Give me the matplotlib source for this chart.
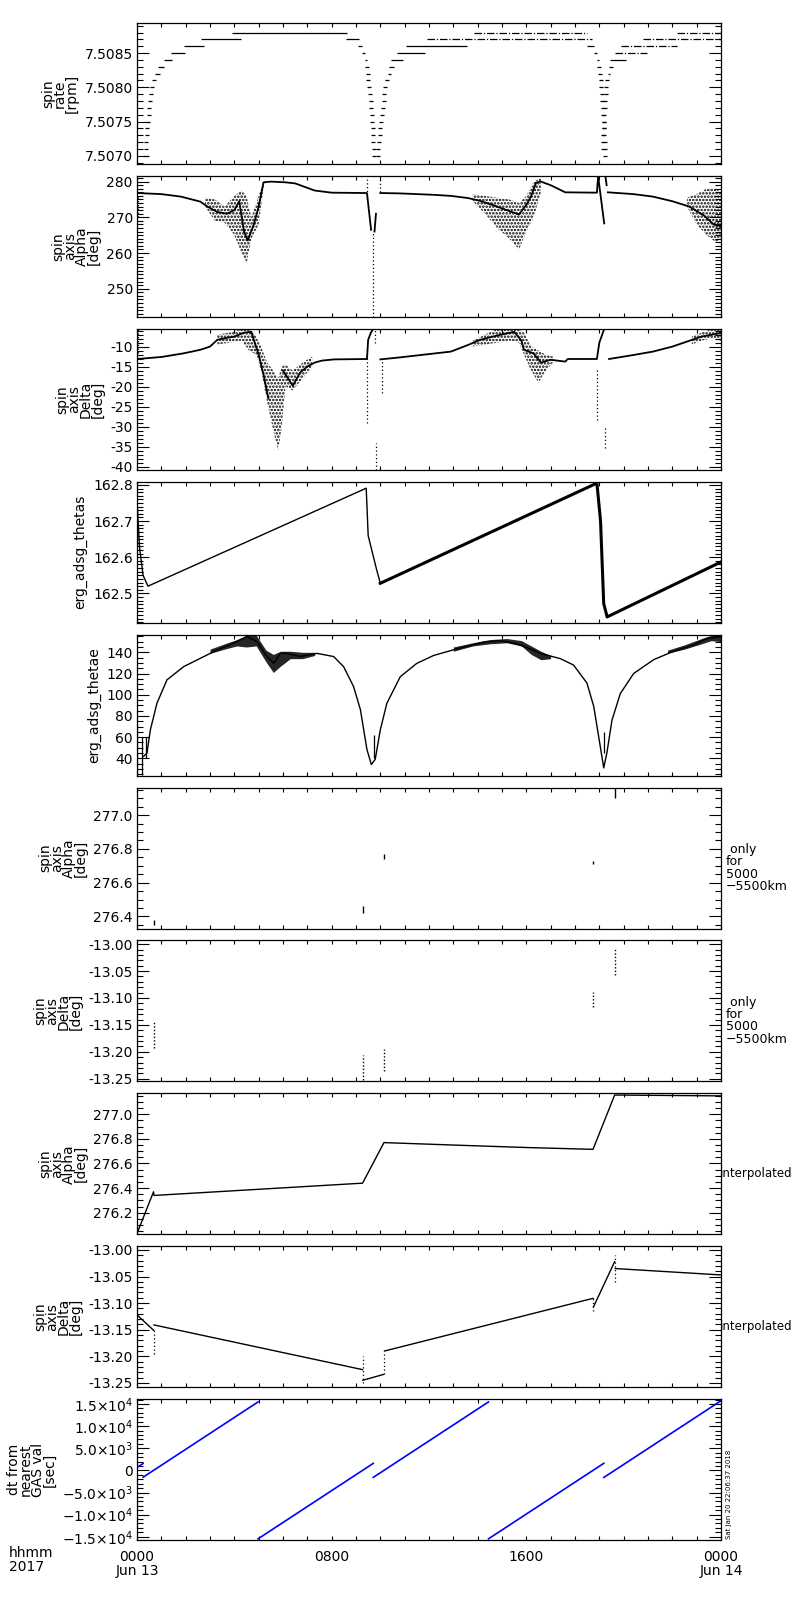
import numpy as np
import matplotlib
matplotlib.use("Agg")
import matplotlib.pyplot as plt
from matplotlib.ticker import MultipleLocator, FixedLocator, FormatStrFormatter, FuncFormatter

plt.rcParams['font.family'] = ['DejaVu Sans']
plt.rcParams['hatch.linewidth'] = 1.2
nan = np.nan

# ---- panel 1: spin rate [rpm], quantised steps (level, start hour, end hour)
seg_level = [7.5080, 7.5081, 7.5082, 7.5083, 7.5084, 7.5085, 7.5086, 7.5087, 7.5088,
             7.5087, 7.5086, 7.5085, 7.5084,
             7.5082, 7.5083, 7.5084, 7.5085, 7.5086, 7.5087, 7.5088,
             7.5086, 7.5085, 7.5084,
             7.5082, 7.5083, 7.5084, 7.5085, 7.5086, 7.5087, 7.5088]
seg_t0 = [0.55, 0.63, 0.75, 0.86, 1.09, 1.41, 1.94, 2.64, 3.90,
          8.60, 9.07, 9.24, 9.36,
          10.30, 10.35, 10.45, 10.70, 11.07, 11.92, 13.86,
          18.50, 18.80, 18.90,
          19.35, 19.40, 19.45, 19.65, 19.90, 20.80, 22.20]
seg_t1 = [0.71, 0.79, 0.93, 1.12, 1.44, 1.98, 2.77, 4.27, 8.63,
          9.11, 9.24, 9.38, 9.45,
          10.42, 10.55, 10.95, 11.85, 13.57, 18.70, 18.50,
          18.80, 18.90, 19.00,
          19.42, 19.58, 20.10, 20.95, 22.20, 24.00, 24.00]
# segments that are broken up in the original (mixed levels)
seg_broken = [False, False, False, False, False, False, False, False, False,
              False, False, False, False,
              False, False, False, False, False, True, True,
              False, False, False,
              False, False, False, True, True, True, True]
dot_level = [7.5070, 7.5071, 7.5072, 7.5073, 7.5074, 7.5075, 7.5076, 7.5077, 7.5078, 7.5079,
             7.5083, 7.5082, 7.5081, 7.5080, 7.5079, 7.5078, 7.5077, 7.5076, 7.5075, 7.5074, 7.5073, 7.5072, 7.5071, 7.5070,
             7.5081, 7.5080, 7.5079, 7.5078, 7.5077, 7.5076, 7.5075, 7.5074, 7.5073, 7.5072, 7.5071, 7.5070,
             7.5083, 7.5082, 7.5081, 7.5080, 7.5079, 7.5078, 7.5077, 7.5076, 7.5075, 7.5074, 7.5073, 7.5072, 7.5071, 7.5070,
             7.5081, 7.5080, 7.5079, 7.5078, 7.5077, 7.5076, 7.5075, 7.5074, 7.5073, 7.5072, 7.5071]
dot_t = [0.36, 0.37, 0.38, 0.40, 0.43, 0.45, 0.48, 0.50, 0.53, 0.56,
         9.45, 9.48, 9.51, 9.54, 9.57, 9.60, 9.62, 9.64, 9.66, 9.68, 9.70, 9.71, 9.72, 9.73,
         10.26, 10.21, 10.17, 10.14, 10.10, 10.07, 10.03, 10.00, 9.97, 9.94, 9.92, 9.90,
         19.00, 19.03, 19.06, 19.08, 19.10, 19.12, 19.14, 19.16, 19.18, 19.20, 19.21, 19.22, 19.23, 19.24,
         19.31, 19.28, 19.26, 19.24, 19.23, 19.21, 19.20, 19.18, 19.17, 19.15, 19.14]

# ---- panel 2: spin axis Alpha [deg]
alpha_t = [0, 1.0, 1.8, 2.6, 2.9, 3.3, 3.7, 4.0, 4.2, 4.4, 4.55, 4.8, 5.0, 5.2, 5.5, 6.1, 6.5, 6.9, 7.3,
           8.0, 9.45, 9.62, nan, 9.76, 9.82, nan,
           10.0, 10.8, 12.2, 12.9, 13.6, 14.1, 14.6, 15.0, 15.4, 15.7, 16.0, 16.2, 16.4, 16.6, 17.0, 17.3,
           17.6, 18.9, 18.95, 19.2, nan, 19.25, 19.3, nan,
           19.35, 20.4, 21.2, 22.0, 22.7, 23.3, 23.7, 24.0]
alpha_v = [276.8, 276.5, 275.8, 274.4, 273.0, 271.5, 271.0, 272.0, 274.5, 266.0, 263.5, 268.0, 273.0, 279.8,
           280.0, 279.8, 279.5, 278.5, 277.5,
           276.9, 276.8, 266.5, nan, 266.0, 271.0, nan,
           276.8, 276.7, 276.3, 276.0, 275.4, 274.6, 273.5, 272.5, 271.5, 270.8, 273.5, 276.0, 279.7, 280.0,
           279.0, 278.0,
           277.0, 276.9, 281.5, 268.3, nan, 281.5, 279.0, nan,
           277.0, 276.5, 275.8, 274.5, 273.0, 270.5, 268.0, 267.5]
alpha_cloud_t = [[2.8, 3.2, 3.6, 4.0, 4.3, 4.5, 4.7, 5.0, 5.2],
                 [13.8, 14.3, 14.8, 15.3, 15.7, 16.0, 16.3, 16.6],
                 [22.6, 23.0, 23.4, 23.8, 24.0]]
alpha_cloud_lo = [[273.0, 269.0, 268.5, 265.0, 260.0, 257.0, 264.0, 268.0, 278.0],
                  [274.5, 271.0, 267.0, 264.0, 261.0, 266.0, 270.0, 277.0],
                  [273.0, 268.0, 265.0, 263.0, 264.0]]
alpha_cloud_hi = [[275.5, 275.0, 273.0, 276.0, 277.5, 276.0, 270.0, 276.0, 280.0],
                  [276.5, 276.0, 275.5, 275.0, 274.0, 276.0, 280.0, 281.0],
                  [275.5, 276.5, 278.0, 278.0, 277.0]]
alpha_dots_t = [0.05, 9.47, 9.70, 10.0]
alpha_dots_lo = [270.0, 275.0, 241.0, 277.0]
alpha_dots_hi = [276.0, 281.6, 266.0, 281.6]

# ---- panel 3: spin axis Delta [deg]
delta_t = [0, 1.0, 1.9, 2.6, 3.0, 3.3, 3.7, 4.0, 4.4, 4.7, 4.8, 5.0, 5.2, 5.4, nan,
           6.0, 6.4, 6.7, 7.0, 7.3, 7.6, 8.1, 9.45, 9.5, 9.6, 9.7, nan,
           10.0, 10.8, 12.9, 13.6, 14.1, 14.9, 15.5, 15.8, 15.9, 16.3, 16.6, 17.0, 17.6, 17.7, 18.9, 19.0, 19.2, nan,
           19.4, 20.4, 21.2, 22.0, 22.6, 23.2, 23.9, 24.0]
delta_v = [-13.1, -12.6, -11.7, -10.8, -10.0, -8.3, -7.8, -7.5, -6.5, -6.3, -8.3, -12.0, -17.0, -23.0, nan,
           -16.0, -19.8, -16.5, -15.0, -14.0, -13.5, -13.2, -13.1, -8.3, -6.7, -5.6, nan,
           -13.2, -12.7, -11.25, -9.6, -8.3, -7.1, -6.3, -8.5, -10.8, -11.7, -14.0, -13.3, -13.75, -13.1, -13.1,
           -9.0, -5.6, nan,
           -13.1, -12.1, -11.25, -10.0, -8.75, -7.5, -6.7, -6.5]
delta_cloud_t = [[3.3, 3.8, 4.3, 4.6, 4.9, 5.1, 5.35, 5.6, 5.8, 5.95, 6.1, 6.4, 6.8, 7.2],
                 [13.8, 14.3, 14.8, 15.3, 15.7, 15.9, 16.2, 16.5, 16.8, 17.1],
                 [22.8, 23.2, 23.6, 24.0]]
delta_cloud_lo = [[-9.5, -9.0, -8.5, -11.0, -12.0, -16.0, -24.0, -31.0, -36.0, -30.0, -20.0, -21.0, -18.0, -15.0],
                  [-10.0, -9.5, -9.0, -8.5, -9.0, -12.0, -16.0, -19.0, -16.0, -14.0],
                  [-9.5, -8.5, -8.0, -8.5]]
delta_cloud_hi = [[-7.0, -6.5, -5.6, -5.6, -7.5, -10.0, -14.0, -16.0, -18.0, -15.0, -14.5, -16.0, -14.0, -12.5],
                  [-8.5, -7.0, -5.6, -5.6, -5.6, -6.5, -10.0, -11.0, -12.0, -12.5],
                  [-7.5, -6.5, -5.6, -5.6]]
delta_dots_t = [0.03, 9.45, 9.78, 9.82, 10.05, 18.9, 19.22]
delta_dots_lo = [-11.5, -29.0, -9.0, -40.8, -21.7, -28.3, -35.4]
delta_dots_hi = [-5.6, -11.7, -5.6, -34.0, -13.2, -15.8, -30.0]

# ---- panel 4: erg_adsg_thetas
thetas_t = [0, 0.1, 0.25, 0.45, 9.42, 9.5, 9.85, 10.0, 18.9, 19.05, 19.18, 19.32, 24.0]
thetas_v = [162.76, 162.63, 162.55, 162.52, 162.791, 162.66, 162.565, 162.528,
            162.805, 162.70, 162.472, 162.435, 162.587]

# ---- panel 5: erg_adsg_thetae
thetae_t = [0.27, 0.41, 0.55, 0.82, 1.23, 1.92, 2.6, 3.29, 3.97, 4.24, 4.52, 4.93, 5.34, 5.62, 5.89, 6.16,
            6.71, 7.4, 8.08, 8.49, 8.9, 9.18, 9.45, 9.63, 9.79, 10.0, 10.27, 10.82, 11.5, 12.19, 13.15,
            14.24, 14.93, 15.61, 16.3, 16.57, 17.4, 17.94, 18.49, 18.77, 19.04, 19.18, 19.31, 19.52,
            19.86, 20.41, 21.23, 22.05, 22.87, 23.42, 24.0]
thetae_v = [41.8, 45, 66.9, 92, 114, 126.5, 134.3, 142.2, 148.5, 151.6, 155, 150, 135.9, 129.6, 139, 139,
            136, 139, 136, 126.5, 107.7, 86, 48.3, 34.2, 39, 67, 92, 117, 129.6, 137, 143.3,
            149.6, 151, 148, 142, 139, 134, 128, 111, 89, 51, 31, 45, 76,
            101, 120, 133, 141, 147, 153, 155]
thetae_band_t = [[3.0, 3.6, 4.1, 4.5, 4.9, 5.3, 5.6, 5.9, 6.3, 6.8, 7.3],
                 [13.0, 13.8, 14.5, 15.2, 15.8, 16.2, 16.6, 17.0],
                 [21.8, 22.5, 23.2, 23.6, 24.0]]
thetae_band_lo = [[139, 143, 146, 145, 146, 131, 121, 127, 134, 134, 137],
                  [141, 146, 148, 149, 146, 138, 133, 134],
                  [139, 143, 148, 151, 150]]
thetae_band_hi = [[143, 148, 152, 156, 156, 142, 138, 141, 141, 140, 140],
                  [145, 149, 152, 153, 151, 146, 141, 137],
                  [142, 147, 153, 156, 157]]
thetae_dots_t = [0.02, 0.2, 0.35, 9.72, 19.2]
thetae_dots_lo = [24, 24, 40, 40, 45]
thetae_dots_hi = [72, 60, 60, 62, 65]

# ---- panels 6,7: values only for 5000-5500 km (GAS samples)
gas_t = [0.68, 9.27, 10.15, 18.74, 19.63]
gas_alpha_lo = [276.35, 276.42, 276.74, 276.71, 277.10]
gas_alpha_hi = [276.38, 276.46, 276.77, 276.73, 277.17]
gas_delta_lo = [-13.193, -13.253, -13.235, -13.117, -13.057]
gas_delta_hi = [-13.143, -13.206, -13.194, -13.088, -13.007]

# ---- panel 8: alpha interpolated
ialpha_t = [0, 0.68, 0.70, 9.27, 10.15, 13.0, 16.0, 18.74, 19.63, 24.0]
ialpha_v = [276.03, 276.37, 276.34, 276.44, 276.77, 276.75, 276.73, 276.715, 277.157, 277.15]

# ---- panel 9: delta interpolated
idelta_t = [0, 0.68, nan, 0.70, 9.27, nan, 9.28, 10.13, nan, 10.17, 18.74, nan, 18.76, 19.63, nan, 19.65, 24.0]
idelta_v = [-13.122, -13.151, nan, -13.141, -13.225, nan, -13.245, -13.234, nan, -13.19, -13.091, nan,
            -13.107, -13.022, nan, -13.035, -13.047]
idelta_dots_t = [0.68, 9.27, 10.15, 18.74, 19.63]
idelta_dots_lo = [-13.195, -13.25, -13.234, -13.115, -13.06]
idelta_dots_hi = [-13.151, -13.20, -13.195, -13.09, -13.01]

# ---- panel 10: dt from nearest GAS value [sec]
dt_gas = [-0.18, 0.68, 9.27, 10.15, 18.74, 19.63]
dt_start = [0.0, 0.25, 4.975, 9.71, 14.445, 19.185]
dt_end = [0.25, 4.975, 9.71, 14.445, 19.185, 24.0]

ylabels = ['spin\nrate\n[rpm]', 'spin\naxis\nAlpha\n[deg]', 'spin\naxis\nDelta\n[deg]',
           'erg_adsg_thetas', 'erg_adsg_thetae',
           'spin\naxis\nAlpha\n[deg]', 'spin\naxis\nDelta\n[deg]',
           'spin\naxis\nAlpha\n[deg]', 'spin\naxis\nDelta\n[deg]',
           'dt from\nnearest\nGAS val\n[sec]']
ylims = [(7.50688, 7.50894), (242.1, 281.6), (-40.8, -5.55), (162.419, 162.809), (23.7, 156.7),
         (276.329, 277.163), (-13.255, -12.993), (276.024, 277.171), (-13.258, -12.993), (-15750, 16100)]
ymajor = [0.0005, 10, 5, 0.1, 20, 0.2, 0.05, 0.2, 0.05, 5000]
yminor = [0.0001, 1, 1, 0.01, 5, 0.05, 0.01, 0.05, 0.01, 1000]
yfmt = ['%.4f', '%d', '%d', '%.1f', '%d', '%.1f', '%.2f', '%.1f', '%.2f', None]
right_notes = [None, None, None, None, None,
               ' only\nfor\n5000\n\u22125500km', ' only\nfor\n5000\n\u22125500km',
               'interpolated', 'interpolated', None]


def sci_fmt(v, pos):
    if abs(v) < 1e-6:
        return '0'
    e = int(np.floor(np.log10(abs(v))))
    m = abs(v) / 10 ** e
    sign = '\u2212' if v < 0 else ''
    return sign + '%.1f\u00d710$^{%d}$' % (m, e)


fig = plt.figure(figsize=(8, 16), dpi=100)
W, H = 800.0, 1600.0
left, width = 137, 584
top0, pitch, ph = 23, 152.9, 141

axes = []
for i in range(10):
    top = top0 + pitch * i
    ax = fig.add_axes([left / W, 1 - (top + ph) / H, width / W, ph / H])
    ax.set_xlim(0, 24)
    ax.set_ylim(*ylims[i])
    ax.xaxis.set_major_locator(MultipleLocator(8))
    ax.xaxis.set_minor_locator(MultipleLocator(1))
    ax.yaxis.set_major_locator(MultipleLocator(ymajor[i]))
    ax.yaxis.set_minor_locator(MultipleLocator(yminor[i]))
    if yfmt[i]:
        ax.yaxis.set_major_formatter(FormatStrFormatter(yfmt[i]))
    else:
        ax.yaxis.set_major_formatter(FuncFormatter(sci_fmt))
    ax.tick_params(axis='both', which='both', direction='in', top=True, right=True,
                   labelsize=10, width=0.8, pad=3)
    ax.tick_params(axis='y', which='major', length=8.5)
    ax.tick_params(axis='y', which='minor', length=4.5)
    ax.tick_params(axis='x', which='both', length=3)
    for s in ax.spines.values():
        s.set_linewidth(0.9)
    ax.set_ylabel(ylabels[i], fontsize=10, linespacing=0.8, labelpad=4)
    if i < 9:
        ax.tick_params(axis='x', labelbottom=False)
    if right_notes[i]:
        cy = 1 - (top + ph / 2 + 10) / H
        if right_notes[i] == 'interpolated':
            fig.text(720 / W, cy, right_notes[i], fontsize=8.5, ha='left', va='center')
        else:
            fig.text(726 / W, cy, right_notes[i], fontsize=9, ha='left', va='center',
                     linespacing=0.92)
    axes.append(ax)

k = 'black'
# panel 1
ax = axes[0]
for lv, a, b, br in zip(seg_level, seg_t0, seg_t1, seg_broken):
    ax.hlines(lv, a, b, color=k, lw=0.9, linestyles=(0, (6, 1.5, 1, 1.5)) if br else 'solid')
ax.plot(dot_t, dot_level, ls='none', marker='_', ms=2.5, mew=0.9, color=k)

# panel 2
ax = axes[1]
for t, lo, hi in zip(alpha_cloud_t, alpha_cloud_lo, alpha_cloud_hi):
    ax.fill_between(t, lo, hi, facecolor='none', edgecolor=k, hatch='.....', linewidth=0)
ax.plot(alpha_t, alpha_v, color=k, lw=1.3)
ax.vlines(alpha_dots_t, alpha_dots_lo, alpha_dots_hi, color=k, lw=0.9, linestyles=(0, (1, 2)))

# panel 3
ax = axes[2]
for t, lo, hi in zip(delta_cloud_t, delta_cloud_lo, delta_cloud_hi):
    ax.fill_between(t, lo, hi, facecolor='none', edgecolor=k, hatch='.....', linewidth=0)
ax.plot(delta_t, delta_v, color=k, lw=1.3)
ax.vlines(delta_dots_t, delta_dots_lo, delta_dots_hi, color=k, lw=0.9, linestyles=(0, (1, 2)))

# panel 4
ax = axes[3]
ax.plot(thetas_t[:8], thetas_v[:8], color=k, lw=1.0)
ax.plot(thetas_t[7:], thetas_v[7:], color=k, lw=2.2)

# panel 5
ax = axes[4]
for t, lo, hi in zip(thetae_band_t, thetae_band_lo, thetae_band_hi):
    ax.fill_between(t, lo, hi, color=k, linewidth=0, alpha=0.85)
ax.plot(thetae_t, thetae_v, color=k, lw=1.0)
ax.vlines(thetae_dots_t, thetae_dots_lo, thetae_dots_hi, color=k, lw=0.9)

# panels 6, 7
axes[5].vlines(gas_t, gas_alpha_lo, gas_alpha_hi, color=k, lw=1.0)
axes[6].vlines(gas_t, gas_delta_lo, gas_delta_hi, color=k, lw=1.0, linestyles=(0, (1, 1.5)))

# panel 8
axes[7].plot(ialpha_t, ialpha_v, color=k, lw=1.0)

# panel 9
axes[8].plot(idelta_t, idelta_v, color=k, lw=1.0)
axes[8].vlines(idelta_dots_t, idelta_dots_lo, idelta_dots_hi, color=k, lw=0.9, linestyles=(0, (1, 2)))

# panel 10
ax = axes[9]
for g, t0, t1 in zip(dt_gas, dt_start, dt_end):
    ax.plot([t0, t1], [(t0 - g) * 3600, (t1 - g) * 3600], color='blue', lw=1.2)
ax.xaxis.set_major_locator(FixedLocator([0, 8, 16, 24]))
ax.set_xticklabels(['0000\nJun 13', '0800', '1600', '0000\nJun 14'], fontsize=10, linespacing=1.0)
ax.tick_params(axis='x', which='major', pad=7)

fig.text(9 / W, 1 - 1546 / H, 'hhmm\n2017', fontsize=10, ha='left', va='top', linespacing=1.0)
fig.text(729 / W, 1 - 1539 / H, 'Sat Jan 20 22:06:37 2018', fontsize=5, rotation=90,
         ha='center', va='bottom')

fig.savefig('out.png', dpi=100)
